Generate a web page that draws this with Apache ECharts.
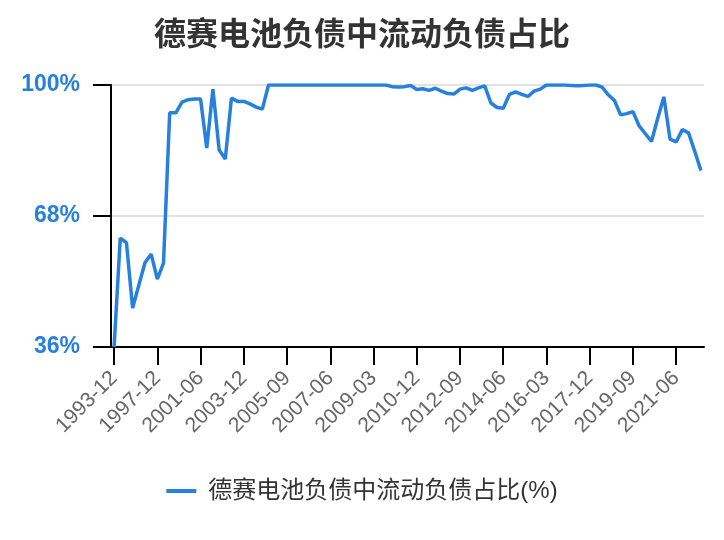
<!DOCTYPE html>
<html>
<head>
<meta charset="utf-8">
<script src="https://cdn.jsdelivr.net/npm/echarts@6/dist/echarts.min.js"></script>
<style>
  html, body { margin: 0; padding: 0; background: #fff; }
  #chart { width: 724px; height: 540px; }
</style>
</head>
<body>
<div id="chart"></div>
<script>
// 报告期
const dates = [
  "1993-12", "1994-12", "1995-06", "1995-12", "1996-06", "1996-12", "1997-06",
  "1997-12", "1998-06", "1998-12", "1999-06", "1999-12", "2000-06", "2000-12",
  "2001-06", "2001-12", "2002-06", "2002-12", "2003-03", "2003-06", "2003-09",
  "2003-12", "2004-03", "2004-06", "2004-09", "2004-12", "2005-03", "2005-06",
  "2005-09", "2005-12", "2006-03", "2006-06", "2006-09", "2006-12", "2007-03",
  "2007-06", "2007-09", "2007-12", "2008-03", "2008-06", "2008-09", "2008-12",
  "2009-03", "2009-06", "2009-09", "2009-12", "2010-03", "2010-06", "2010-09",
  "2010-12", "2011-03", "2011-06", "2011-09", "2011-12", "2012-03", "2012-06",
  "2012-09", "2012-12", "2013-03", "2013-06", "2013-09", "2013-12", "2014-03",
  "2014-06", "2014-09", "2014-12", "2015-03", "2015-06", "2015-09", "2015-12",
  "2016-03", "2016-06", "2016-09", "2016-12", "2017-03", "2017-06", "2017-09",
  "2017-12", "2018-03", "2018-06", "2018-09", "2018-12", "2019-03", "2019-06",
  "2019-09", "2019-12", "2020-03", "2020-06", "2020-09", "2020-12", "2021-03",
  "2021-06", "2021-09", "2021-12", "2022-03", "2022-06"
];

// 流动负债占比(%)
const ratio = [
  36.0, 62.6, 61.5, 45.5, 51.1, 56.6, 58.7,
  52.6, 56.5, 93.2, 93.2, 95.8, 96.4, 96.6,
  96.6, 84.6, 99.0, 84.2, 81.9, 96.8, 96.0,
  96.0, 95.4, 94.6, 94.1, 100, 100, 100,
  100, 100, 100, 100, 100, 100, 100,
  100, 100, 100, 100, 100, 100, 100,
  100, 100, 100, 99.6, 99.5, 99.6, 99.9,
  98.9, 99.1, 98.7, 99.2, 98.5, 97.9, 97.8,
  99.0, 99.3, 98.7, 99.3, 99.8, 95.6, 94.5,
  94.3, 97.7, 98.3, 97.7, 97.2, 98.5, 99.0,
  100, 100, 100, 100, 99.9, 99.8, 99.9,
  100, 100, 99.5, 97.6, 96.2, 92.7, 93.0,
  93.5, 90.0, 88.1, 86.2, 91.8, 97.1, 86.8,
  86.1, 89.1, 88.3, 83.8, 79.1
];

// y 轴刻度: 36% / 68% / 100%
const yTicks = [36, 68, 100];
const yMin = 36;
const yMax = 100;
const yStep = 32;

const titleText = "德赛电池负债中流动负债占比";
const seriesName = "德赛电池负债中流动负债占比(%)";

const blue = "#2680dc";
const font = "'Liberation Sans', 'Noto Sans CJK SC', sans-serif";

const chart = echarts.init(document.getElementById("chart"));

chart.setOption({
  animation: false,
  textStyle: { fontFamily: font },
  title: {
    text: titleText,
    left: "center",
    top: 15,
    textStyle: { fontSize: 32, fontWeight: "bold", color: "#333", fontFamily: font }
  },
  legend: {
    bottom: 32,
    left: "center",
    icon: "rect",
    itemWidth: 30,
    itemHeight: 4,
    textStyle: { fontSize: 24, color: "#333", padding: [0, 0, 0, 7], fontFamily: font },
    data: [seriesName]
  },
  grid: {
    left: 111,
    right: 20,
    top: 85,
    bottom: 193,
    outerBoundsMode: "none"
  },
  xAxis: {
    type: "category",
    data: dates,
    boundaryGap: true,
    axisLine: { show: true, lineStyle: { color: "#000", width: 2 } },
    axisTick: {
      show: true,
      inside: false,
      alignWithLabel: true,
      interval: 6,
      length: 18,
      lineStyle: { color: "#000", width: 2 }
    },
    axisLabel: {
      interval: 6,
      rotate: 45,
      margin: 28,
      fontSize: 21,
      color: "#666",
      fontFamily: font
    },
    splitLine: { show: false }
  },
  yAxis: {
    type: "value",
    min: yMin,
    max: yMax,
    interval: yStep,
    axisLine: { show: true, lineStyle: { color: "#000", width: 2 } },
    axisTick: {
      show: true,
      inside: false,
      length: 18,
      lineStyle: { color: "#000", width: 2 }
    },
    axisLabel: {
      formatter: "{value}%",
      margin: 31,
      fontSize: 23,
      fontWeight: "bold",
      color: blue,
      fontFamily: font
    },
    splitLine: { show: true, lineStyle: { color: "#e2e2e2", width: 2 } }
  },
  series: [
    {
      name: seriesName,
      type: "line",
      data: ratio,
      showSymbol: false,
      symbol: "none",
      lineStyle: { color: blue, width: 3.5 },
      itemStyle: { color: blue }
    }
  ]
});

// y 轴刻度线: 用坐标轴换算出位置后补画
try {
  const p0 = chart.convertToPixel({ gridIndex: 0 }, [dates[0], yMin]);
  const p1 = chart.convertToPixel({ gridIndex: 0 }, [dates[1], yMin]);
  const axisX = p0[0] - (p1[0] - p0[0]) / 2;
  const tickLines = yTicks.map((v) => {
    const y = chart.convertToPixel({ gridIndex: 0 }, [dates[0], v])[1];
    return {
      type: "line",
      silent: true,
      z: 100,
      shape: { x1: axisX - 18, y1: y, x2: axisX, y2: y },
      style: { stroke: "#000", lineWidth: 2 }
    };
  });
  chart.setOption({ graphic: { elements: tickLines } });
} catch (e) {
  console.log(e);
}
</script>
</body>
</html>
